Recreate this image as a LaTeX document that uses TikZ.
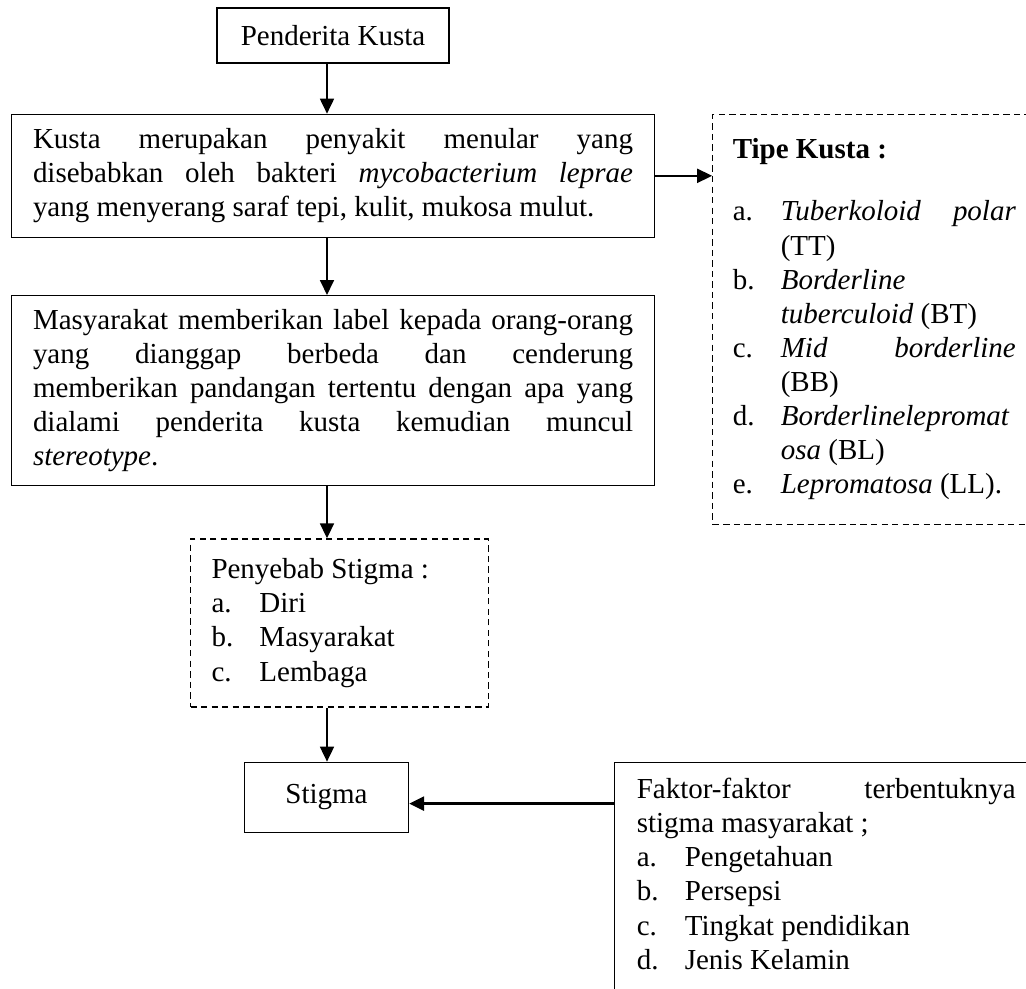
\documentclass[tikz,border=0pt]{standalone}
\usepackage{fontspec}
\setmainfont{Liberation Serif}[WordSpace={1,1,0}]
\usetikzlibrary{arrows.meta,positioning}
\hyphenpenalty=10000
\exhyphenpenalty=10000
\tolerance=9999
\newcommand{\itm}[2]{\par\noindent\hangindent=0.96cm\hangafter=1\makebox[0.96cm][l]{#1}#2\par}
\tikzset{
    box/.style={
        rectangle,
        draw=black,
        line width=0.75pt,
        font={\fontsize{16.5pt}{19.4pt}\selectfont},
    },
    boxdash/.style={
        box,
        dash pattern=on 3.6pt off 2.4pt,
    },
    textbox/.style={
        align=justify,
        inner ysep=0pt,
    },
    post/.style={
        ->,
        line width=0.85pt,
    }
}

\begin{document}
\begin{tikzpicture}[>={Triangle[length=8.5pt,width=8pt]}]
    \path[use as bounding box,clip] (0,0) rectangle (20.52,-19.78);
    \coordinate (axis) at (6.54,0);
    \node [box,minimum width=4.64cm,minimum height=1.1cm] (pk) at (6.66,-0.71) {Penderita Kusta};
    \node [box,textbox,text width=12cm,inner xsep=0.43cm,minimum height=2.46cm] (def) [below=1cm of pk]
        {Kusta merupakan penyakit menular yang disebabkan oleh bakteri \textit{mycobacterium leprae} yang menyerang saraf tepi, kulit, mukosa mulut.};
    \node [box,textbox,text width=12cm,inner xsep=0.43cm,minimum height=3.8cm] (lbl) [below=1.14cm of def]
        {Masyarakat memberikan label kepada orang-orang yang dianggap berbeda dan cenderung\linebreak
        memberikan pandangan tertentu dengan apa yang\linebreak
        dialami penderita kusta kemudian muncul\linebreak
        \textit{stereotype}.};
    \node [boxdash,textbox,text width=5.12cm,inner xsep=0.42cm,minimum height=3.36cm] (sebab) [below=1.04cm of lbl,xshift=0.13cm]
        {Penyebab Stigma :
        \itm{a.}{Diri}
        \itm{b.}{Masyarakat}
        \itm{c.}{Lembaga}};
    \node [box,minimum width=3.28cm,minimum height=1.4cm] (stigma) [below=1.08cm of sebab,xshift=-0.26cm] {Stigma};
    \node [boxdash,textbox,text width=5.66cm,inner xsep=0.4cm,minimum height=8.2cm] (tipe) [right=1.14cm of def.north east,anchor=north west]
        {\textbf{Tipe Kusta :}\par\vspace{0.56cm}
        \itm{a.}{\textit{Tuberkoloid polar} (TT)}
        \itm{b.}{\textit{Borderline tuberculoid} (BT)}
        \itm{c.}{\textit{Mid borderline} (BB)}
        \itm{d.}{\textit{Borderlinelepromat}\newline\textit{osa} (BL)}
        \itm{e.}{\textit{Lepromatosa} (LL).}};
    \node [box,textbox,text width=7.58cm,inner xsep=0.44cm,inner ysep=0.32cm] (faktor) [right=4.1cm of stigma.north east,anchor=north west]
        {Faktor-faktor terbentuknya stigma masyarakat ;
        \itm{a.}{Pengetahuan}
        \itm{b.}{Persepsi}
        \itm{c.}{Tingkat pendidikan}
        \itm{d.}{Jenis Kelamin}
        \noindent\rule{0pt}{0.6cm}};
    % connectors
    \draw[post] (pk.south -| axis) -- (def.north -| axis);
    \draw[post] (def.south -| axis) -- (lbl.north -| axis);
    \draw[post] (lbl.south -| axis) -- (sebab.north -| axis);
    \draw[post] (sebab.south -| axis) -- (stigma.north -| axis);
    \draw[post] (def.east) -- (def.east -| tipe.west);
    \draw[post,line width=1.3pt] ([yshift=-0.84cm]faktor.north west) -- ([yshift=-0.84cm]faktor.north west -| stigma.east);
\end{tikzpicture}
\end{document}
